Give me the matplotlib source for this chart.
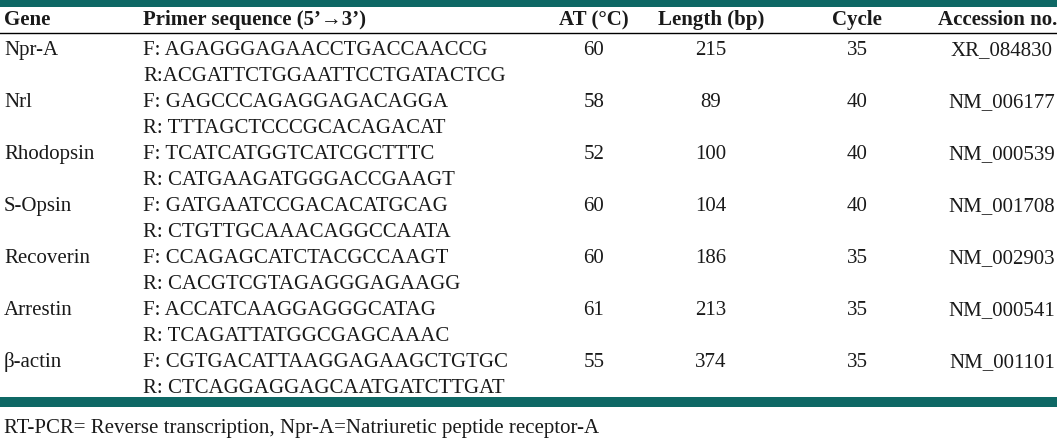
import matplotlib.pyplot as plt

genes = ["Npr-A", "Nrl", "Rhodopsin", "S-Opsin", "Recoverin", "Arrestin", "\u03b2-actin"]
fwd = ["F: AGAGGGAGAACCTGACCAACCG", "F: GAGCCCAGAGGAGACAGGA", "F: TCATCATGGTCATCGCTTTC",
       "F: GATGAATCCGACACATGCAG", "F: CCAGAGCATCTACGCCAAGT", "F: ACCATCAAGGAGGGCATAG",
       "F: CGTGACATTAAGGAGAAGCTGTGC"]
rev = ["R:ACGATTCTGGAATTCCTGATACTCG", "R: TTTAGCTCCCGCACAGACAT", "R: CATGAAGATGGGACCGAAGT",
       "R: CTGTTGCAAACAGGCCAATA", "R: CACGTCGTAGAGGGAGAAGG", "R: TCAGATTATGGCGAGCAAAC",
       "R: CTCAGGAGGAGCAATGATCTTGAT"]
at = [60, 58, 52, 60, 60, 61, 55]
length = [215, 89, 100, 104, 186, 213, 374]
cycle = [35, 40, 40, 40, 35, 35, 35]
accession = ["XR_084830", "NM_006177", "NM_000539", "NM_001708", "NM_002903", "NM_000541", "NM_001101"]
headers = ["Gene", "Primer sequence (5\u2019\u21923\u2019)", "AT (\u00b0C)", "Length (bp)", "Cycle", "Accession no."]
footnote = "RT-PCR= Reverse transcription, Npr-A=Natriuretic peptide receptor-A"

teal = "#0e6865"
ink = "#1a1a1a"
fs = 15
plt.rcParams['font.family'] = ['Liberation Serif', 'DejaVu Serif']

fig = plt.figure(figsize=(10.57, 4.45), dpi=100)
ax = fig.add_axes([0, 0, 1, 1])
ax.set_xlim(0, 1057)
ax.set_ylim(445, 0)
ax.axis("off")

# bars and header rule
ax.axhspan(0, 7, color=teal, lw=0)
ax.axhspan(397, 407, color=teal, lw=0)
ax.plot([0, 1057], [32.5, 32.5], color="black", lw=1)

# header
hx = [4, 143, 594, 711, 857, 998]
ha = ["left", "left", "center", "center", "center", "center"]
for x, h, a in zip(hx, headers, ha):
    ax.text(x, 25, h, ha=a, va="baseline", fontsize=fs, fontweight="bold", color=ink)

step = 26
for i, g in enumerate(genes):
    yf = 55 + 2 * i * step
    yr = yf + step
    ax.text(4, yf, g, ha="left", va="baseline", fontsize=fs, color=ink)
    ax.text(143, yf, fwd[i], ha="left", va="baseline", fontsize=fs, color=ink)
    ax.text(143, yr, rev[i], ha="left", va="baseline", fontsize=fs, color=ink)
    ax.text(594, yf, str(at[i]), ha="center", va="baseline", fontsize=fs, color=ink)
    ax.text(711, yf, str(length[i]), ha="center", va="baseline", fontsize=fs, color=ink)
    ax.text(857, yf, str(cycle[i]), ha="center", va="baseline", fontsize=fs, color=ink)
    ax.text(1002, yf, accession[i], ha="center", va="baseline", fontsize=fs, color=ink)

ax.text(4, 433, footnote, ha="left", va="baseline", fontsize=fs, color=ink)

fig.savefig("out.png", dpi=100)
